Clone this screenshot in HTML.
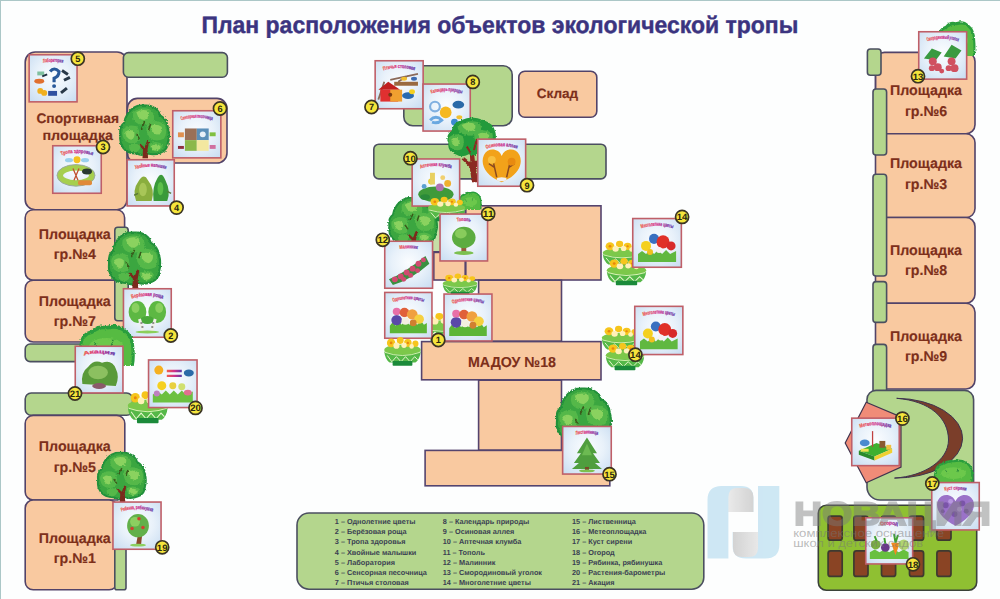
<!DOCTYPE html>
<html><head><meta charset="utf-8"><style>
html,body{margin:0;padding:0;background:#fdfefe;}
body{width:1000px;height:599px;overflow:hidden;font-family:"Liberation Sans",sans-serif;}
svg{display:block;}
</style></head><body>
<svg width="1000" height="599" viewBox="0 0 1000 599" text-rendering="geometricPrecision">

<defs>
<filter id="leafy" x="-10%" y="-10%" width="120%" height="120%">
  <feTurbulence type="fractalNoise" baseFrequency="0.6" numOctaves="1" seed="3" result="n"/>
  <feDisplacementMap in="SourceGraphic" in2="n" scale="3" xChannelSelector="R" yChannelSelector="G"/>
</filter>
<radialGradient id="cg" cx="50%" cy="45%" r="70%">
  <stop offset="0" stop-color="#fbfdff"/><stop offset="0.5" stop-color="#e8f1fa"/><stop offset="1" stop-color="#cadef2"/>
</radialGradient>
<path id="tp" d="M8 11 Q25 5 42 11"/>
<linearGradient id="tg" x1="0" x2="1" y1="0" y2="0">
  <stop offset="0" stop-color="#f0604a"/><stop offset="0.5" stop-color="#d0308a"/><stop offset="1" stop-color="#5a3aa8"/>
</linearGradient>
<symbol id="tree" viewBox="0 0 100 110" preserveAspectRatio="none">
  <path d="M30 6 Q46 -3 64 4 Q78 10 80 22 Q94 30 96 48 Q100 64 96 76 Q96 92 82 98 Q70 104 56 100 Q46 106 34 100 Q16 100 8 88 Q0 76 3 62 Q0 46 10 38 Q14 16 30 6 Z" fill="#3aa640" stroke="#22903a" stroke-width="4"/>
  <path d="M46 110 L47 92 L38 82 L42 80 L50 88 L55 74 L59 76 L56 92 L57 110 Z" fill="#7a2a1c"/>
  <g fill="#55b84a">
    <path d="M28 16 Q42 4 60 10 Q72 18 68 34 Q54 44 38 40 Q24 34 28 16 Z"/>
    <path d="M8 52 Q18 38 36 46 Q44 60 38 76 Q24 84 12 74 Q4 62 8 52 Z"/>
    <path d="M56 38 Q74 28 90 42 Q96 58 88 70 Q72 78 60 68 Q50 54 56 38 Z"/>
    <path d="M20 84 Q32 76 42 84 Q42 96 30 98 Q18 94 20 84 Z"/>
    <path d="M60 80 Q74 72 86 82 Q86 94 72 96 Q60 94 60 80 Z"/>
  </g>
  <g fill="#8ad25e">
    <path d="M34 16 Q46 8 58 14 Q62 26 50 32 Q38 32 34 16 Z"/>
    <path d="M12 56 Q22 48 30 56 Q32 68 24 72 Q14 70 12 56 Z"/>
    <path d="M62 44 Q74 38 84 46 Q86 58 76 62 Q64 60 62 44 Z"/>
    <path d="M64 84 Q74 78 82 86 Q80 94 70 94 Q64 92 64 84 Z"/>
  </g>
  <path d="M50 36 L44 50 M62 40 L58 52 M34 60 L40 70" stroke="#3a5a1a" stroke-width="3" fill="none"/>
</symbol>
<symbol id="bush" viewBox="0 0 100 60" preserveAspectRatio="none">
  <path d="M2 60 Q0 42 4 30 Q6 12 24 9 Q34 0 50 3 Q68 -2 82 7 Q98 15 98 34 Q100 48 97 60 Z" fill="#2a9e3c"/>
  <path d="M6 60 Q4 42 8 32 Q11 16 27 14 Q38 6 52 8 Q70 4 80 12 Q93 20 93 36 Q95 48 92 60 Z" fill="#56bb42"/>
  <ellipse cx="50" cy="34" rx="30" ry="14" fill="#6cc84c"/>
  <path d="M30 26 L36 34 M62 22 L58 32" stroke="#2a8a3a" stroke-width="2"/>
</symbol>
<symbol id="pot" viewBox="0 0 100 80" preserveAspectRatio="none">
  <ellipse cx="50" cy="38" rx="48" ry="14" fill="#7cc84a"/>
  <g fill="#f6c51c">
    <circle cx="20" cy="20" r="11"/><circle cx="44" cy="14" r="9"/><circle cx="64" cy="20" r="10"/><circle cx="84" cy="22" r="8"/>
  </g>
  <g fill="#fff1b8"><circle cx="34" cy="27" r="8"/><circle cx="54" cy="26" r="7"/><circle cx="74" cy="29" r="6"/></g>
  <g fill="#e8860e"><circle cx="20" cy="20" r="3.5"/><circle cx="64" cy="20" r="3"/></g>
  <path d="M2 42 Q50 58 98 42 Q96 62 84 70 L16 70 Q4 62 2 42 Z" fill="#55b848"/>
  <path d="M4 44 Q50 60 96 44" stroke="#d8f2b0" stroke-width="2.5" fill="none"/>
  <path d="M10 52 L22 68 L34 55 L46 68 L58 55 L70 68 L82 55 L90 63" stroke="#e8f8d0" stroke-width="2.5" fill="none"/>
  <rect x="24" y="66" width="52" height="12" rx="2" fill="#1b8a3a"/>
</symbol>
<symbol id="tree2" viewBox="0 0 100 130" preserveAspectRatio="none">
  <path d="M50 130 L46 100 L30 84 L35 80 L47 90 L46 70 L54 68 L56 88 L70 76 L74 80 L58 100 L62 130 Z" fill="#8a2a20"/>
  <path d="M30 6 Q50 -4 72 6 Q92 12 96 30 Q100 46 90 58 Q84 72 66 70 Q56 80 44 74 Q30 82 18 74 Q2 68 4 52 Q-2 36 10 28 Q14 10 30 6 Z" fill="#249a3a"/>
  <g fill="#4eb449">
    <path d="M22 18 Q40 4 62 10 Q72 18 68 32 Q54 40 38 36 Q22 32 22 18 Z"/>
    <path d="M6 40 Q18 30 32 38 Q38 52 30 64 Q18 70 8 60 Q2 50 6 40 Z"/>
    <path d="M56 30 Q74 22 90 32 Q94 46 84 56 Q70 60 60 52 Q52 42 56 30 Z"/>
  </g>
  <g fill="#86cf5c">
    <path d="M30 16 Q44 8 56 14 Q60 24 50 28 Q36 28 30 16 Z"/>
    <path d="M10 44 Q20 38 26 46 Q26 56 18 58 Q10 56 10 44 Z"/>
    <path d="M62 34 Q74 28 84 36 Q84 46 74 50 Q64 46 62 34 Z"/>
  </g>
  <path d="M48 72 L40 58 M54 66 L60 44" stroke="#8a2a20" stroke-width="4" fill="none"/>
</symbol>
</defs>

<rect x="0" y="0" width="1000" height="599" fill="#fdfefe"/>
<rect x="0" y="0" width="1000" height="1" fill="#abc7c7"/>
<rect x="0" y="0" width="1" height="599" fill="#abc7c7"/>
<text x="201.4" y="33.4" font-family="Liberation Sans" font-size="23.6" font-weight="bold" fill="#3b3480" text-anchor="start" textLength="597" lengthAdjust="spacingAndGlyphs" stroke="#3b3480" stroke-width="0.4" >План расположения объектов экологической тропы</text>
<rect x="25.2" y="52.0" width="101.8" height="157.7" rx="10" fill="#f9c9a0" stroke="#524369" stroke-width="1.6" />
<rect x="127.4" y="98.4" width="99.6" height="64.6" rx="10" fill="#f9c9a0" stroke="#524369" stroke-width="1.6" />
<rect x="123.4" y="52.6" width="104.0" height="24.6" rx="5" fill="#b4d68d" stroke="#4b4f60" stroke-width="1.6" />
<rect x="25.2" y="209.7" width="99.4" height="70.5" rx="8" fill="#f9c9a0" stroke="#524369" stroke-width="1.6" />
<rect x="25.2" y="280.2" width="99.4" height="61.8" rx="8" fill="#f9c9a0" stroke="#524369" stroke-width="1.6" />
<rect x="114.8" y="227.2" width="13.4" height="93.6" rx="3" fill="#b4d68d" stroke="#4b4f60" stroke-width="1.6" />
<rect x="25.2" y="344.0" width="98.0" height="17.6" rx="5" fill="#b4d68d" stroke="#4b4f60" stroke-width="1.6" />
<rect x="25.2" y="393.0" width="107.4" height="22.2" rx="6" fill="#b4d68d" stroke="#4b4f60" stroke-width="1.6" />
<rect x="25.2" y="415.4" width="99.6" height="84.6" rx="8" fill="#f9c9a0" stroke="#524369" stroke-width="1.6" />
<rect x="25.2" y="500.0" width="92.0" height="89.8" rx="8" fill="#f9c9a0" stroke="#524369" stroke-width="1.6" />
<rect x="114.8" y="505.8" width="11.2" height="84.0" rx="2" fill="#b4d68d" stroke="#4b4f60" stroke-width="1.6" />
<text x="77.7" y="122.6" font-family="Liberation Sans" font-size="13.8" font-weight="bold" fill="#7d2f1a" text-anchor="middle" textLength="82.6" lengthAdjust="spacingAndGlyphs" stroke="#7d2f1a" stroke-width="0.15" >Спортивная</text>
<text x="77.7" y="140.2" font-family="Liberation Sans" font-size="13.8" font-weight="bold" fill="#7d2f1a" text-anchor="middle" textLength="70.6" lengthAdjust="spacingAndGlyphs" stroke="#7d2f1a" stroke-width="0.15" >площадка</text>
<text x="74.8" y="238.9" font-family="Liberation Sans" font-size="14.2" font-weight="bold" fill="#7d2f1a" text-anchor="middle" textLength="72" lengthAdjust="spacingAndGlyphs" stroke="#7d2f1a" stroke-width="0.15" >Площадка</text>
<text x="74.8" y="259.2" font-family="Liberation Sans" font-size="14.2" font-weight="bold" fill="#7d2f1a" text-anchor="middle"  stroke="#7d2f1a" stroke-width="0.15" >гр.№4</text>
<text x="74.8" y="305.6" font-family="Liberation Sans" font-size="14.2" font-weight="bold" fill="#7d2f1a" text-anchor="middle" textLength="72" lengthAdjust="spacingAndGlyphs" stroke="#7d2f1a" stroke-width="0.15" >Площадка</text>
<text x="74.8" y="325.90000000000003" font-family="Liberation Sans" font-size="14.2" font-weight="bold" fill="#7d2f1a" text-anchor="middle"  stroke="#7d2f1a" stroke-width="0.15" >гр.№7</text>
<text x="74.8" y="451.2" font-family="Liberation Sans" font-size="14.2" font-weight="bold" fill="#7d2f1a" text-anchor="middle" textLength="72" lengthAdjust="spacingAndGlyphs" stroke="#7d2f1a" stroke-width="0.15" >Площадка</text>
<text x="74.8" y="471.5" font-family="Liberation Sans" font-size="14.2" font-weight="bold" fill="#7d2f1a" text-anchor="middle"  stroke="#7d2f1a" stroke-width="0.15" >гр.№5</text>
<text x="74.8" y="542.8" font-family="Liberation Sans" font-size="14.2" font-weight="bold" fill="#7d2f1a" text-anchor="middle" textLength="72" lengthAdjust="spacingAndGlyphs" stroke="#7d2f1a" stroke-width="0.15" >Площадка</text>
<text x="74.8" y="563.0999999999999" font-family="Liberation Sans" font-size="14.2" font-weight="bold" fill="#7d2f1a" text-anchor="middle"  stroke="#7d2f1a" stroke-width="0.15" >гр.№1</text>
<rect x="875.5" y="52.4" width="99.5" height="81.4" rx="9" fill="#f9c9a0" stroke="#524369" stroke-width="1.6" />
<rect x="875.5" y="133.7" width="99.5" height="83.9" rx="9" fill="#f9c9a0" stroke="#524369" stroke-width="1.6" />
<rect x="875.5" y="217.5" width="99.5" height="85.8" rx="9" fill="#f9c9a0" stroke="#524369" stroke-width="1.6" />
<rect x="875.5" y="303.2" width="99.5" height="85.8" rx="9" fill="#f9c9a0" stroke="#524369" stroke-width="1.6" />
<line x1="875.5" y1="70" x2="875.5" y2="95" stroke="#524369" stroke-width="1.4"/>
<rect x="867.4" y="49.0" width="13.6" height="26.2" rx="3" fill="#b4d68d" stroke="#4b4f60" stroke-width="1.6" />
<rect x="873.0" y="89.0" width="13.6" height="66.0" rx="3" fill="#b4d68d" stroke="#4b4f60" stroke-width="1.6" />
<rect x="873.0" y="174.2" width="13.6" height="101.8" rx="3" fill="#b4d68d" stroke="#4b4f60" stroke-width="1.6" />
<rect x="873.0" y="281.6" width="13.6" height="40.8" rx="3" fill="#b4d68d" stroke="#4b4f60" stroke-width="1.6" />
<rect x="873.0" y="344.4" width="13.6" height="48.2" rx="3" fill="#b4d68d" stroke="#4b4f60" stroke-width="1.6" />
<text x="926" y="95.2" font-family="Liberation Sans" font-size="14.2" font-weight="bold" fill="#7d2f1a" text-anchor="middle" textLength="72" lengthAdjust="spacingAndGlyphs" stroke="#7d2f1a" stroke-width="0.15" >Площадка</text>
<text x="926" y="115.6" font-family="Liberation Sans" font-size="14.2" font-weight="bold" fill="#7d2f1a" text-anchor="middle"  stroke="#7d2f1a" stroke-width="0.15" >гр.№6</text>
<text x="926" y="168.4" font-family="Liberation Sans" font-size="14.2" font-weight="bold" fill="#7d2f1a" text-anchor="middle" textLength="72" lengthAdjust="spacingAndGlyphs" stroke="#7d2f1a" stroke-width="0.15" >Площадка</text>
<text x="926" y="189.20000000000002" font-family="Liberation Sans" font-size="14.2" font-weight="bold" fill="#7d2f1a" text-anchor="middle"  stroke="#7d2f1a" stroke-width="0.15" >гр.№3</text>
<text x="926" y="254.8" font-family="Liberation Sans" font-size="14.2" font-weight="bold" fill="#7d2f1a" text-anchor="middle" textLength="72" lengthAdjust="spacingAndGlyphs" stroke="#7d2f1a" stroke-width="0.15" >Площадка</text>
<text x="926" y="275.1" font-family="Liberation Sans" font-size="14.2" font-weight="bold" fill="#7d2f1a" text-anchor="middle"  stroke="#7d2f1a" stroke-width="0.15" >гр.№8</text>
<text x="926" y="340.8" font-family="Liberation Sans" font-size="14.2" font-weight="bold" fill="#7d2f1a" text-anchor="middle" textLength="72" lengthAdjust="spacingAndGlyphs" stroke="#7d2f1a" stroke-width="0.15" >Площадка</text>
<text x="926" y="360.6" font-family="Liberation Sans" font-size="14.2" font-weight="bold" fill="#7d2f1a" text-anchor="middle"  stroke="#7d2f1a" stroke-width="0.15" >гр.№9</text>
<path d="M876 390.4 H964.6 A9 9 0 0 1 973.6 399.4 V491 A9 9 0 0 1 964.6 500 H880 A13 13 0 0 1 867 487 V399.4 A9 9 0 0 1 876 390.4 Z" fill="#b4d68d" stroke="#4b4f60" stroke-width="1.6"/>
<rect x="818.3" y="505.3" width="158.4" height="84.9" rx="8" fill="#8fc032" stroke="#3a4238" stroke-width="1.6" />
<rect x="828.1" y="516.1" width="14.1" height="24.1" rx="2.5" fill="#8a4424" stroke="#3e3a30" stroke-width="1.7" />
<rect x="828.1" y="550.9" width="14.1" height="25.5" rx="2.5" fill="#8a4424" stroke="#3e3a30" stroke-width="1.7" />
<rect x="853.9" y="516.1" width="14.1" height="24.1" rx="2.5" fill="#8a4424" stroke="#3e3a30" stroke-width="1.7" />
<rect x="853.9" y="550.9" width="14.1" height="25.5" rx="2.5" fill="#8a4424" stroke="#3e3a30" stroke-width="1.7" />
<rect x="881.5" y="516.1" width="14.1" height="24.1" rx="2.5" fill="#8a4424" stroke="#3e3a30" stroke-width="1.7" />
<rect x="881.5" y="550.9" width="14.1" height="25.5" rx="2.5" fill="#8a4424" stroke="#3e3a30" stroke-width="1.7" />
<rect x="909.5" y="516.1" width="14.1" height="24.1" rx="2.5" fill="#8a4424" stroke="#3e3a30" stroke-width="1.7" />
<rect x="909.5" y="550.9" width="14.1" height="25.5" rx="2.5" fill="#8a4424" stroke="#3e3a30" stroke-width="1.7" />
<rect x="936.9" y="516.1" width="14.1" height="24.1" rx="2.5" fill="#8a4424" stroke="#3e3a30" stroke-width="1.7" />
<rect x="936.9" y="550.9" width="14.1" height="25.5" rx="2.5" fill="#8a4424" stroke="#3e3a30" stroke-width="1.7" />
<rect x="403.8" y="65.8" width="108.4" height="59.9" rx="9" fill="#b4d68d" stroke="#4b4f60" stroke-width="1.6" />
<rect x="518.8" y="71.2" width="78.0" height="46.0" rx="6" fill="#f9c9a0" stroke="#524369" stroke-width="1.6" />
<text x="557.5" y="98.4" font-family="Liberation Sans" font-size="13.5" font-weight="bold" fill="#7d2f1a" text-anchor="middle" textLength="41.4" lengthAdjust="spacingAndGlyphs" stroke="#7d2f1a" stroke-width="0.15" >Склад</text>
<rect x="373.8" y="144.2" width="232.2" height="34.7" rx="5" fill="#b4d68d" stroke="#4b4f60" stroke-width="1.6" />
<rect x="405.8" y="205.8" width="59.4" height="46.0" rx="0" fill="#c6dfa6" stroke="#54446e" stroke-width="1.6" />
<rect x="433.8" y="252.4" width="31.4" height="27.6" rx="0" fill="#f9c9a0" stroke="#54446e" stroke-width="1.6" />
<rect x="465.8" y="205.8" width="135.2" height="74.2" rx="0" fill="#f9c9a0" stroke="#54446e" stroke-width="1.6" />
<rect x="478.6" y="280.2" width="82.9" height="61.0" rx="0" fill="#f9c9a0" stroke="#54446e" stroke-width="1.6" />
<rect x="478.6" y="380.2" width="82.9" height="70.0" rx="0" fill="#f9c9a0" stroke="#54446e" stroke-width="1.6" />
<rect x="421.6" y="341.6" width="179.4" height="38.2" rx="0" fill="#f9c9a0" stroke="#54446e" stroke-width="1.6" />
<rect x="425.1" y="450.4" width="184.7" height="35.4" rx="0" fill="#f9c9a0" stroke="#54446e" stroke-width="1.6" />
<text x="512" y="366.6" font-family="Liberation Sans" font-size="14.4" font-weight="bold" fill="#7d2f1a" text-anchor="middle" textLength="88" lengthAdjust="spacingAndGlyphs" stroke="#7d2f1a" stroke-width="0.1" >МАДОУ №18</text>
<rect x="297.0" y="513.0" width="406.8" height="76.2" rx="12" fill="#b4d68d" stroke="#4b4f60" stroke-width="1.6" />
<text x="334.8" y="524" font-family="Liberation Sans" font-size="7.3" font-weight="bold" fill="#3a3f52" text-anchor="start"   >1 – Однолетние цветы</text>
<text x="334.8" y="534.1" font-family="Liberation Sans" font-size="7.3" font-weight="bold" fill="#3a3f52" text-anchor="start"   >2 – Берёзовая роща</text>
<text x="334.8" y="544.2" font-family="Liberation Sans" font-size="7.3" font-weight="bold" fill="#3a3f52" text-anchor="start"   >3 – Тропа здоровья</text>
<text x="334.8" y="554.6" font-family="Liberation Sans" font-size="7.3" font-weight="bold" fill="#3a3f52" text-anchor="start"   >4 – Хвойные малышки</text>
<text x="334.8" y="564.8" font-family="Liberation Sans" font-size="7.3" font-weight="bold" fill="#3a3f52" text-anchor="start"   >5 – Лаборатория</text>
<text x="334.8" y="575.1" font-family="Liberation Sans" font-size="7.3" font-weight="bold" fill="#3a3f52" text-anchor="start"   >6 – Сенсорная песочница</text>
<text x="334.8" y="585.3" font-family="Liberation Sans" font-size="7.3" font-weight="bold" fill="#3a3f52" text-anchor="start"   >7 – Птичья столовая</text>
<text x="442.8" y="524" font-family="Liberation Sans" font-size="7.3" font-weight="bold" fill="#3a3f52" text-anchor="start"   >8 – Календарь природы</text>
<text x="442.8" y="534.1" font-family="Liberation Sans" font-size="7.3" font-weight="bold" fill="#3a3f52" text-anchor="start"   >9 – Осиновая аллея</text>
<text x="442.8" y="544.2" font-family="Liberation Sans" font-size="7.3" font-weight="bold" fill="#3a3f52" text-anchor="start"   >10 – Аптечная клумба</text>
<text x="442.8" y="554.6" font-family="Liberation Sans" font-size="7.3" font-weight="bold" fill="#3a3f52" text-anchor="start"   >11 – Тополь</text>
<text x="442.8" y="564.8" font-family="Liberation Sans" font-size="7.3" font-weight="bold" fill="#3a3f52" text-anchor="start"   >12 – Малинник</text>
<text x="442.8" y="575.1" font-family="Liberation Sans" font-size="7.3" font-weight="bold" fill="#3a3f52" text-anchor="start"   >13 – Смородиновый уголок</text>
<text x="442.8" y="585.3" font-family="Liberation Sans" font-size="7.3" font-weight="bold" fill="#3a3f52" text-anchor="start"   >14 – Многолетние цветы</text>
<text x="572" y="524" font-family="Liberation Sans" font-size="7.3" font-weight="bold" fill="#3a3f52" text-anchor="start"   >15 – Лиственница</text>
<text x="572" y="534.1" font-family="Liberation Sans" font-size="7.3" font-weight="bold" fill="#3a3f52" text-anchor="start"   >16 – Метеоплощадка</text>
<text x="572" y="544.2" font-family="Liberation Sans" font-size="7.3" font-weight="bold" fill="#3a3f52" text-anchor="start"   >17 – Куст сирени</text>
<text x="572" y="554.6" font-family="Liberation Sans" font-size="7.3" font-weight="bold" fill="#3a3f52" text-anchor="start"   >18 – Огород</text>
<text x="572" y="564.8" font-family="Liberation Sans" font-size="7.3" font-weight="bold" fill="#3a3f52" text-anchor="start"   >19 – Рябинка, рябинушка</text>
<text x="572" y="575.1" font-family="Liberation Sans" font-size="7.3" font-weight="bold" fill="#3a3f52" text-anchor="start"   >20 – Растения-барометры</text>
<text x="572" y="585.3" font-family="Liberation Sans" font-size="7.3" font-weight="bold" fill="#3a3f52" text-anchor="start"   >21 – Акация</text>
<path d="M866.2 402.2 L901 417 L901 467 L866.2 482.8 L845.2 443 Z" fill="#f08c78" stroke="#40344e" stroke-width="1.2"/>
<path d="M896.7 398.3 A67 39.9 0 0 1 894.5 478.1 C 925 476 948.5 460 948.5 440 C 948.5 418 930 401 896.7 398.3 Z" fill="#7b3e2a" stroke="#3e3550" stroke-width="1"/>
<use href="#tree" x="119" y="104.4" width="51" height="54.0" filter="url(#leafy)"/>
<use href="#tree" x="107.6" y="231.4" width="53.80000000000001" height="56.599999999999994" filter="url(#leafy)"/>
<use href="#tree" x="96.7" y="451.7" width="50.2" height="50.19999999999999" filter="url(#leafy)"/>
<use href="#tree" x="388" y="197" width="50" height="51" filter="url(#leafy)"/>
<use href="#tree" x="555.5" y="387.5" width="56.5" height="57.5" filter="url(#leafy)"/>
<use href="#bush" x="936" y="20.5" width="40" height="35.5" filter="url(#leafy)"/>
<use href="#bush" x="933" y="459" width="41" height="25" filter="url(#leafy)"/>
<use href="#bush" x="458" y="191" width="24" height="19" filter="url(#leafy)"/>
<use href="#pot" x="127" y="389" width="41.5" height="35"/>
<use href="#pot" x="442" y="272" width="36" height="24"/>
<use href="#pot" x="420" y="311" width="44" height="31"/>
<use href="#pot" x="602" y="239" width="40" height="29"/>
<use href="#pot" x="606" y="256" width="41" height="30"/>
<use href="#pot" x="601" y="324" width="40" height="29"/>
<use href="#pot" x="605" y="341" width="40" height="30"/>
<g transform="translate(28.4,54.0)"><rect x="0.75" y="0.75" width="47.9" height="47.1" fill="url(#cg)" stroke="#bf5f68" stroke-width="1.6"/><g transform="scale(0.988,0.972)"><text font-family="Liberation Sans" font-weight="bold" font-size="5.4" fill="url(#tg)" stroke="url(#tg)" stroke-width="0.25"><textPath href="#tp" startOffset="50%" text-anchor="middle" textLength="20" lengthAdjust="spacingAndGlyphs">Лаборатория</textPath></text><path d="M22 18 q4 -5 9 0 q0 5 -5 7 l0 4" stroke="#2a5a9a" stroke-width="3.2" fill="none"/><circle cx="26" cy="33" r="2" fill="#2a5a9a"/><ellipse cx="11" cy="28" rx="5" ry="2.5" fill="#e07030"/><circle cx="12" cy="38" r="3" fill="#f0b020"/><circle cx="16" cy="40" r="3" fill="#f0b020"/><path d="M34 17 l6 4 M36 27 l6 -3 M33 40 l6 -5" stroke="#283848" stroke-width="3"/><rect x="9" y="18" width="7" height="4" fill="#80c0a0"/><rect x="20" y="38" width="9" height="5" fill="#3050a0"/><path d="M14 23 l5 -2" stroke="#203040" stroke-width="2"/></g></g>
<g transform="translate(172.0,110.0)"><rect x="0.75" y="0.75" width="48.1" height="47.1" fill="url(#cg)" stroke="#bf5f68" stroke-width="1.6"/><g transform="scale(0.992,0.972)"><text font-family="Liberation Sans" font-weight="bold" font-size="5.4" fill="url(#tg)" stroke="url(#tg)" stroke-width="0.25"><textPath href="#tp" startOffset="50%" text-anchor="middle" textLength="32" lengthAdjust="spacingAndGlyphs">Сенсорная песочница</textPath></text><rect x="13" y="19" width="12" height="12" fill="#9a7058"/><rect x="25" y="19" width="12" height="12" fill="#5b8fb8"/><rect x="13" y="31" width="12" height="11" fill="#8ab84a"/><rect x="25" y="31" width="12" height="11" fill="#f3e8a0"/><rect x="6" y="23" width="6" height="5" fill="#e09050"/><rect x="38" y="23" width="6" height="4" fill="#80c040"/><rect x="6" y="37" width="6" height="3" fill="#903040"/><rect x="38" y="36" width="6" height="4" fill="#d070a0"/><circle cx="31" cy="25" r="3" fill="#e8f0f8"/></g></g>
<g transform="translate(52.0,145.0)"><rect x="0.75" y="0.75" width="48.5" height="47.5" fill="url(#cg)" stroke="#bf5f68" stroke-width="1.6"/><g transform="scale(1.000,0.980)"><text font-family="Liberation Sans" font-weight="bold" font-size="5.4" fill="url(#tg)" stroke="url(#tg)" stroke-width="0.25"><textPath href="#tp" startOffset="50%" text-anchor="middle" textLength="32" lengthAdjust="spacingAndGlyphs">Тропа здоровья</textPath></text><circle cx="25" cy="15" r="3.5" fill="#f5c020"/><ellipse cx="17" cy="15.5" rx="4" ry="2.2" fill="#9ad0ee"/><ellipse cx="33" cy="15.5" rx="4" ry="2.2" fill="#9ad0ee"/><ellipse cx="24" cy="31" rx="16" ry="8" fill="none" stroke="#a6cf4e" stroke-width="6"/><ellipse cx="24" cy="31" rx="19" ry="11" fill="none" stroke="#9aa8a0" stroke-width="1"/><ellipse cx="35" cy="27" rx="5" ry="3" fill="#2a3a30"/><path d="M21 24 L26 36 M27 24 L22 36" stroke="#c05030" stroke-width="1.3"/><rect x="26" y="36" width="14" height="5" rx="2" fill="#e08a3a"/></g></g>
<g transform="translate(126.4,159.0)"><rect x="0.75" y="0.75" width="47.1" height="46.2" fill="url(#cg)" stroke="#bf5f68" stroke-width="1.6"/><g transform="scale(0.972,0.954)"><text font-family="Liberation Sans" font-weight="bold" font-size="5.4" fill="url(#tg)" stroke="url(#tg)" stroke-width="0.25"><textPath href="#tp" startOffset="50%" text-anchor="middle" textLength="32" lengthAdjust="spacingAndGlyphs">Хвойные малышки</textPath></text><path d="M10 44 Q6 32 12 24 Q18 14 22 22 Q30 32 26 44 Z" fill="#8aae3e"/><path d="M28 44 Q26 30 32 20 Q36 12 40 22 Q46 34 42 44 Z" fill="#3a9a3a"/><ellipse cx="17" cy="32" rx="4" ry="7" fill="#a8c658"/><ellipse cx="35" cy="31" rx="3" ry="7" fill="#5cbf4a"/><path d="M8 38 L12 36 M42 34 L46 36" stroke="#5a7a3a" stroke-width="1.5"/></g></g>
<g transform="translate(122.7,288.0)"><rect x="0.75" y="0.75" width="47.8" height="48.5" fill="url(#cg)" stroke="#bf5f68" stroke-width="1.6"/><g transform="scale(0.986,1.000)"><text font-family="Liberation Sans" font-weight="bold" font-size="5.4" fill="url(#tg)" stroke="url(#tg)" stroke-width="0.25"><textPath href="#tp" startOffset="50%" text-anchor="middle" textLength="32" lengthAdjust="spacingAndGlyphs">Берёзовая роща</textPath></text><ellipse cx="15" cy="24" rx="9" ry="11" fill="#5db843"/><ellipse cx="35" cy="24" rx="9" ry="11" fill="#5db843"/><ellipse cx="25" cy="32" rx="7" ry="4" fill="#4aa83a"/><ellipse cx="13" cy="20" rx="4" ry="5" fill="#8ad060"/><ellipse cx="37" cy="20" rx="4" ry="5" fill="#8ad060"/><path d="M17 31 L21 44 M33 31 L29 44" stroke="#f0f0e8" stroke-width="3"/><path d="M18 35 L20 35 M19 39 L21 39 M32 35 L30 35 M31 39 L29 39" stroke="#303030" stroke-width="1"/><ellipse cx="25" cy="44" rx="12" ry="1.5" fill="#8ccf5a"/></g></g>
<g transform="translate(147.8,359.2)"><rect x="0.75" y="0.75" width="48.5" height="47.6" fill="url(#cg)" stroke="#bf5f68" stroke-width="1.6"/><g transform="scale(1.000,0.982)"><circle cx="11" cy="11" r="4.5" fill="#f5b020"/><ellipse cx="41" cy="14" rx="5" ry="3.5" fill="#2a6aa8"/><path d="M19 12 L34 12 M19 17 L34 17" stroke="url(#tg)" stroke-width="2.5"/><path d="M5 44 L5 36 L10 33 L14 36 L18 32 L22 36 L26 32 L30 36 L34 32 L38 36 L45 33 L45 44 Z" fill="#6cc040"/><circle cx="14" cy="27" r="4.5" fill="#f5d020"/><circle cx="25" cy="27" r="3.5" fill="#e8d040"/><circle cx="34" cy="28" r="3.5" fill="#d0e070"/><ellipse cx="40" cy="34" rx="4" ry="3" fill="#e07090"/><ellipse cx="9" cy="35" rx="3" ry="3" fill="#c080c0"/></g></g>
<g transform="translate(112.2,501.3)"><rect x="0.75" y="0.75" width="48.1" height="47.2" fill="url(#cg)" stroke="#bf5f68" stroke-width="1.6"/><g transform="scale(0.992,0.974)"><text font-family="Liberation Sans" font-weight="bold" font-size="5.4" fill="url(#tg)" stroke="url(#tg)" stroke-width="0.25"><textPath href="#tp" startOffset="50%" text-anchor="middle" textLength="32" lengthAdjust="spacingAndGlyphs">Рябинка, рябинушка</textPath></text><path d="M24 45 L27 28 L31 28 L29 45 Z" fill="#8a4a2a"/><ellipse cx="26" cy="25" rx="11" ry="12" fill="#62b04a"/><ellipse cx="23" cy="21" rx="5" ry="5" fill="#8ccf60"/><circle cx="20" cy="28" r="1.8" fill="#d04030"/><circle cx="31" cy="27" r="1.8" fill="#d04030"/><circle cx="27" cy="18" r="1.8" fill="#d04030"/><ellipse cx="26" cy="45" rx="8" ry="1.5" fill="#8cd060"/></g></g>
<g transform="translate(374.4,60.0)"><rect x="0.75" y="0.75" width="48.0" height="48.0" fill="url(#cg)" stroke="#bf5f68" stroke-width="1.6"/><g transform="scale(0.990,0.990)"><text font-family="Liberation Sans" font-weight="bold" font-size="5.4" fill="url(#tg)" stroke="url(#tg)" stroke-width="0.25"><textPath href="#tp" startOffset="50%" text-anchor="middle" textLength="32" lengthAdjust="spacingAndGlyphs">Птичья столовая</textPath></text><path d="M4 40 L10 22 M16 20 L44 14 M24 22 L34 16" stroke="#8a6a5a" stroke-width="1.8" fill="none"/><rect x="20" y="22" width="24" height="4" fill="#9a6a40"/><path d="M4 30 L14 22 L26 30 Z" fill="#c02020"/><rect x="6" y="30" width="18" height="12" fill="#e03030"/><rect x="16" y="30" width="12" height="12" fill="#f0a030"/><circle cx="16" cy="35" r="2" fill="#7a3a10"/><ellipse cx="34" cy="36" rx="6" ry="3.5" fill="#2a6ab0"/><ellipse cx="38" cy="32" rx="3" ry="2.5" fill="#f5d020"/><ellipse cx="30" cy="19" rx="3" ry="2" fill="#f0c030"/><ellipse cx="40" cy="19" rx="3" ry="2" fill="#3a6ab0"/></g></g>
<g transform="translate(422.3,83.3)"><rect x="0.75" y="0.75" width="47.2" height="47.0" fill="url(#cg)" stroke="#bf5f68" stroke-width="1.6"/><g transform="scale(0.974,0.970)"><text font-family="Liberation Sans" font-weight="bold" font-size="5.4" fill="url(#tg)" stroke="url(#tg)" stroke-width="0.25"><textPath href="#tp" startOffset="50%" text-anchor="middle" textLength="32" lengthAdjust="spacingAndGlyphs">Календарь природы</textPath></text><circle cx="13" cy="24" r="5" fill="none" stroke="#80b0e0" stroke-width="2.2"/><circle cx="24" cy="30" r="6" fill="#f5b820"/><ellipse cx="37" cy="22" rx="6" ry="4" fill="#2a6aa8"/><path d="M8 38 q6 -6 12 0 q-4 4 -10 2" stroke="#6aa8e0" stroke-width="3" fill="none"/><circle cx="33" cy="40" r="3.5" fill="#3a8ad0"/><ellipse cx="38" cy="35" rx="3" ry="2" fill="#f0c030"/></g></g>
<g transform="translate(384.0,240.5)"><rect x="0.75" y="0.75" width="47.8" height="47.0" fill="url(#cg)" stroke="#bf5f68" stroke-width="1.6"/><g transform="scale(0.986,0.970)"><text font-family="Liberation Sans" font-weight="bold" font-size="5.4" fill="url(#tg)" stroke="url(#tg)" stroke-width="0.25"><textPath href="#tp" startOffset="50%" text-anchor="middle" textLength="18" lengthAdjust="spacingAndGlyphs">Малинник</textPath></text><path d="M5 40 Q20 34 42 16 L46 24 Q28 40 9 46 Z" fill="#3a9040"/><g fill="#d04a70"><circle cx="11" cy="40" r="3"/><circle cx="17" cy="37" r="3"/><circle cx="23" cy="33" r="3"/><circle cx="29" cy="29" r="3"/><circle cx="35" cy="24" r="3"/><circle cx="40" cy="20" r="2.5"/><circle cx="20" cy="40" r="2.5"/><circle cx="27" cy="36" r="2.5"/><circle cx="34" cy="31" r="2.5"/></g></g></g>
<g transform="translate(384.0,291.7)"><rect x="0.75" y="0.75" width="47.2" height="45.8" fill="url(#cg)" stroke="#bf5f68" stroke-width="1.6"/><g transform="scale(0.974,0.946)"><text font-family="Liberation Sans" font-weight="bold" font-size="5.4" fill="url(#tg)" stroke="url(#tg)" stroke-width="0.25"><textPath href="#tp" startOffset="50%" text-anchor="middle" textLength="32" lengthAdjust="spacingAndGlyphs">Однолетние цветы</textPath></text><path d="M6 44 L6 36 L9 32 L12 36 L15 31 L18 35 L22 30 L26 35 L30 31 L34 35 L38 31 L41 35 L44 33 L44 44 Z" fill="#5cb536"/><circle cx="13" cy="30" r="5.5" fill="#5a48a8"/><circle cx="13" cy="21" r="4" fill="#e870a8"/><circle cx="21" cy="22" r="5" fill="#e0603a"/><circle cx="29" cy="24" r="5.5" fill="#f0a040"/><circle cx="36" cy="29" r="5" fill="#f5d040"/><circle cx="22" cy="31" r="4" fill="#f4efe0"/><circle cx="30" cy="33" r="3.5" fill="#d08030"/></g></g>
<g transform="translate(443.3,293.3)"><rect x="0.75" y="0.75" width="47.9" height="46.9" fill="url(#cg)" stroke="#bf5f68" stroke-width="1.6"/><g transform="scale(0.988,0.968)"><text font-family="Liberation Sans" font-weight="bold" font-size="5.4" fill="url(#tg)" stroke="url(#tg)" stroke-width="0.25"><textPath href="#tp" startOffset="50%" text-anchor="middle" textLength="32" lengthAdjust="spacingAndGlyphs">Однолетние цветы</textPath></text><path d="M6 44 L6 36 L9 32 L12 36 L15 31 L18 35 L22 30 L26 35 L30 31 L34 35 L38 31 L41 35 L44 33 L44 44 Z" fill="#5cb536"/><circle cx="13" cy="30" r="5.5" fill="#5a48a8"/><circle cx="13" cy="21" r="4" fill="#e870a8"/><circle cx="21" cy="22" r="5" fill="#e0603a"/><circle cx="29" cy="24" r="5.5" fill="#f0a040"/><circle cx="36" cy="29" r="5" fill="#f5d040"/><circle cx="22" cy="31" r="4" fill="#f4efe0"/><circle cx="30" cy="33" r="3.5" fill="#d08030"/></g></g>
<g transform="translate(632.0,217.8)"><rect x="0.75" y="0.75" width="48.6" height="48.7" fill="url(#cg)" stroke="#bf5f68" stroke-width="1.6"/><g transform="scale(1.002,1.004)"><text font-family="Liberation Sans" font-weight="bold" font-size="5.4" fill="url(#tg)" stroke="url(#tg)" stroke-width="0.25"><textPath href="#tp" startOffset="50%" text-anchor="middle" textLength="32" lengthAdjust="spacingAndGlyphs">Многолетние цветы</textPath></text><path d="M6 44 L6 36 L10 33 L14 36 L18 32 L22 36 L26 32 L30 36 L34 32 L38 36 L44 33 L44 44 Z" fill="#60b840"/><circle cx="14" cy="28" r="5" fill="#f4d020"/><circle cx="22" cy="21" r="5" fill="#3a70c0"/><circle cx="31" cy="24" r="6.5" fill="#e03028"/><circle cx="39" cy="28" r="4.5" fill="#d82a2a"/><circle cx="18" cy="34" r="3" fill="#f0c020"/><circle cx="27" cy="32" r="3" fill="#f8f0f0"/></g></g>
<g transform="translate(634.0,305.6)"><rect x="0.75" y="0.75" width="48.1" height="48.2" fill="url(#cg)" stroke="#bf5f68" stroke-width="1.6"/><g transform="scale(0.992,0.994)"><text font-family="Liberation Sans" font-weight="bold" font-size="5.4" fill="url(#tg)" stroke="url(#tg)" stroke-width="0.25"><textPath href="#tp" startOffset="50%" text-anchor="middle" textLength="32" lengthAdjust="spacingAndGlyphs">Многолетние цветы</textPath></text><path d="M6 44 L6 36 L10 33 L14 36 L18 32 L22 36 L26 32 L30 36 L34 32 L38 36 L44 33 L44 44 Z" fill="#60b840"/><circle cx="14" cy="28" r="5" fill="#f4d020"/><circle cx="22" cy="21" r="5" fill="#3a70c0"/><circle cx="31" cy="24" r="6.5" fill="#e03028"/><circle cx="39" cy="28" r="4.5" fill="#d82a2a"/><circle cx="18" cy="34" r="3" fill="#f0c020"/><circle cx="27" cy="32" r="3" fill="#f8f0f0"/></g></g>
<g transform="translate(561.9,425.7)"><rect x="0.75" y="0.75" width="48.6" height="47.6" fill="url(#cg)" stroke="#bf5f68" stroke-width="1.6"/><g transform="scale(1.002,0.982)"><text font-family="Liberation Sans" font-weight="bold" font-size="5.4" fill="url(#tg)" stroke="url(#tg)" stroke-width="0.25"><textPath href="#tp" startOffset="50%" text-anchor="middle" textLength="22" lengthAdjust="spacingAndGlyphs">Лиственница</textPath></text><path d="M25 12 L35 28 L31 28 L38 38 L33 38 L40 44 L10 44 L17 38 L12 38 L19 28 L15 28 Z" fill="#4f9e3e"/><path d="M25 18 L30 30 L20 30 Z" fill="#6cba52"/><rect x="23" y="42" width="4" height="4" fill="#7a4a2a"/><ellipse cx="25" cy="46" rx="8" ry="1.5" fill="#7cc050"/></g></g>
<g transform="translate(918.0,31.0)"><rect x="0.75" y="0.75" width="47.9" height="47.4" fill="url(#cg)" stroke="#bf5f68" stroke-width="1.6"/><g transform="scale(0.988,0.978)"><text font-family="Liberation Sans" font-weight="bold" font-size="5.4" fill="url(#tg)" stroke="url(#tg)" stroke-width="0.25"><textPath href="#tp" startOffset="50%" text-anchor="middle" textLength="32" lengthAdjust="spacingAndGlyphs">Смородиновый уголок</textPath></text><path d="M6 28 L14 18 L24 22 L18 30 Z M26 26 L34 14 L44 20 L38 28 Z" fill="#3a9a40"/><g fill="#d05060"><circle cx="15" cy="31" r="4"/><circle cx="20" cy="37" r="4"/><circle cx="14" cy="38" r="3"/><circle cx="34" cy="31" r="4"/><circle cx="37" cy="38" r="4"/><circle cx="31" cy="38" r="3"/><circle cx="24" cy="41" r="2.5"/></g></g></g>
<g transform="translate(851.0,417.4)"><rect x="0.75" y="0.75" width="47.5" height="47.5" fill="url(#cg)" stroke="#bf5f68" stroke-width="1.6"/><g transform="scale(0.980,0.980)"><text font-family="Liberation Sans" font-weight="bold" font-size="5.4" fill="url(#tg)" stroke="url(#tg)" stroke-width="0.25"><textPath href="#tp" startOffset="50%" text-anchor="middle" textLength="32" lengthAdjust="spacingAndGlyphs">Метеоплощадка</textPath></text><path d="M8 34 L26 26 L42 32 L24 40 Z" fill="#3fb030"/><path d="M8 34 L24 40 L24 44 L8 38 Z" fill="#2a8a2a"/><path d="M24 40 L42 32 L42 36 L24 44 Z" fill="#f0d030"/><path d="M22 14 L22 30" stroke="#c04040" stroke-width="1.3"/><ellipse cx="14" cy="26" rx="5" ry="3.5" fill="#4a8ad0"/><rect x="29" y="24" width="6" height="7" fill="#8a5a30"/><rect x="36" y="28" width="5" height="5" fill="#f0c040"/><rect x="10" y="32" width="8" height="3" fill="#f0e050"/></g></g>
<g transform="translate(931.0,481.8)"><rect x="0.75" y="0.75" width="47.5" height="47.4" fill="url(#cg)" stroke="#bf5f68" stroke-width="1.6"/><g transform="scale(0.980,0.978)"><text font-family="Liberation Sans" font-weight="bold" font-size="5.4" fill="url(#tg)" stroke="url(#tg)" stroke-width="0.25"><textPath href="#tp" startOffset="50%" text-anchor="middle" textLength="22" lengthAdjust="spacingAndGlyphs">Куст сирени</textPath></text><path d="M25 45 C9 37 4 27 7 19 C11 11 22 12 25 20 C28 12 39 11 43 19 C46 27 41 37 25 45 Z" fill="#9a72c8"/><g fill="#7a54a8"><circle cx="15" cy="24" r="3"/><circle cx="32" cy="22" r="3"/><circle cx="24" cy="33" r="3"/><circle cx="36" cy="30" r="2.5"/><circle cx="12" cy="30" r="2"/></g><g fill="#b898e0"><circle cx="20" cy="20" r="2.5"/><circle cx="29" cy="28" r="2.5"/></g></g></g>
<g transform="translate(865.0,517.0)"><rect x="0.75" y="0.75" width="46.9" height="46.2" fill="url(#cg)" stroke="#bf5f68" stroke-width="1.6"/><g transform="scale(0.968,0.954)"><text font-family="Liberation Sans" font-weight="bold" font-size="5.4" fill="url(#tg)" stroke="url(#tg)" stroke-width="0.25"><textPath href="#tp" startOffset="50%" text-anchor="middle" textLength="18" lengthAdjust="spacingAndGlyphs">Огород</textPath></text><path d="M5 44 L5 37 L10 34 L15 37 L20 34 L25 37 L30 34 L35 37 L40 34 L45 37 L45 44 Z" fill="#68c040"/><circle cx="11" cy="29" r="5" fill="#7ab040"/><circle cx="21" cy="32" r="4.5" fill="#6a3a8a"/><path d="M27 27 L36 27 L31.5 40 Z" fill="#f08a20"/><circle cx="40" cy="29" r="5.5" fill="#b0d470"/><path d="M30 18 L31.5 27 M34 19 L31.5 27" stroke="#40a030" stroke-width="2"/><path d="M10 20 L12 25 M20 22 L21 28" stroke="#40a030" stroke-width="2"/></g></g>
<use href="#bush" x="77" y="324" width="58.5" height="42" filter="url(#leafy)"/>
<g transform="translate(74.5,345.5)"><rect x="0.75" y="0.75" width="47.7" height="46.7" fill="url(#cg)" stroke="#bf5f68" stroke-width="1.6"/><g transform="scale(0.984,0.964)"><text font-family="Liberation Sans" font-weight="bold" font-size="5.4" fill="url(#tg)" stroke="url(#tg)" stroke-width="0.25"><textPath href="#tp" startOffset="50%" text-anchor="middle" textLength="32" lengthAdjust="spacingAndGlyphs">Акация</textPath></text><path d="M8 40 Q6 28 14 22 Q20 14 28 18 Q38 14 42 24 Q46 32 42 42 Z" fill="#5a9a3a"/><ellipse cx="24" cy="28" rx="10" ry="7" fill="#8cc060"/><ellipse cx="25" cy="42" rx="7" ry="3" fill="#8a5a6a"/></g></g>
<use href="#tree2" x="446.3" y="117" width="51.099999999999966" height="65.4" filter="url(#leafy)"/>
<g transform="translate(411.4,158.2)"><rect x="0.75" y="0.75" width="47.5" height="47.1" fill="url(#cg)" stroke="#bf5f68" stroke-width="1.6"/><g transform="scale(0.980,0.972)"><text font-family="Liberation Sans" font-weight="bold" font-size="5.4" fill="url(#tg)" stroke="url(#tg)" stroke-width="0.25"><textPath href="#tp" startOffset="50%" text-anchor="middle" textLength="32" lengthAdjust="spacingAndGlyphs">Аптечная клумба</textPath></text><ellipse cx="25" cy="37" rx="18" ry="8" fill="#3f9a3a"/><circle cx="20" cy="24" r="3" fill="#e8d040"/><circle cx="29" cy="30" r="4" fill="#b070b0"/><circle cx="37" cy="26" r="3.5" fill="#f0b030"/><circle cx="13" cy="29" r="2.5" fill="#5aa0d0"/><rect x="19" y="15" width="5" height="12" fill="#e8d060"/><circle cx="32" cy="20" r="2.5" fill="#f0d070"/><ellipse cx="14" cy="40" rx="5" ry="3" fill="#2a8a3a"/></g></g>
<g transform="translate(477.0,138.4)"><rect x="0.75" y="0.75" width="47.9" height="47.1" fill="url(#cg)" stroke="#bf5f68" stroke-width="1.6"/><g transform="scale(0.988,0.972)"><text font-family="Liberation Sans" font-weight="bold" font-size="5.4" fill="url(#tg)" stroke="url(#tg)" stroke-width="0.25"><textPath href="#tp" startOffset="50%" text-anchor="middle" textLength="32" lengthAdjust="spacingAndGlyphs">Осиновая аллея</textPath></text><path d="M25 45 C8 38 3 26 7 17 C11 9 22 10 25 18 C28 10 39 9 43 17 C47 26 42 38 25 45 Z" fill="#f2a21a"/><path d="M16 22 L20 40 M34 22 L30 40 M18 30 L12 26 M32 30 L38 26" stroke="#8a4a20" stroke-width="1.5"/><circle cx="15" cy="22" r="4" fill="#f8c040"/><circle cx="35" cy="24" r="4" fill="#e88a10"/><ellipse cx="25" cy="42" rx="5" ry="2" fill="#f0f0f0"/></g></g>
<use href="#pot" x="427" y="195" width="39" height="27"/>
<g transform="translate(439.3,213.3)"><rect x="0.75" y="0.75" width="47.5" height="46.9" fill="url(#cg)" stroke="#bf5f68" stroke-width="1.6"/><g transform="scale(0.980,0.968)"><text font-family="Liberation Sans" font-weight="bold" font-size="5.4" fill="url(#tg)" stroke="url(#tg)" stroke-width="0.25"><textPath href="#tp" startOffset="50%" text-anchor="middle" textLength="14" lengthAdjust="spacingAndGlyphs">Тополь</textPath></text><rect x="22.5" y="30" width="5" height="10" fill="#9a5a3a"/><ellipse cx="25" cy="25" rx="12" ry="11" fill="#5cac40"/><ellipse cx="22" cy="21" rx="6" ry="5" fill="#88cc5c"/><ellipse cx="25" cy="41" rx="10" ry="2" fill="#7cc050"/></g></g>
<use href="#pot" x="383.5" y="335" width="38.0" height="31.5"/>
<circle cx="77.8" cy="58.7" r="6.550000000000001" fill="#f5e53c" stroke="#3a3424" stroke-width="1.7"/><text x="77.8" y="62.0" font-family="Liberation Sans" font-weight="bold" font-size="9.2" fill="#2a2810" text-anchor="middle">5</text>
<circle cx="220" cy="108.5" r="6.550000000000001" fill="#f5e53c" stroke="#3a3424" stroke-width="1.7"/><text x="220" y="111.8" font-family="Liberation Sans" font-weight="bold" font-size="9.2" fill="#2a2810" text-anchor="middle">6</text>
<circle cx="103" cy="147" r="6.550000000000001" fill="#f5e53c" stroke="#3a3424" stroke-width="1.7"/><text x="103" y="150.3" font-family="Liberation Sans" font-weight="bold" font-size="9.2" fill="#2a2810" text-anchor="middle">3</text>
<circle cx="176.6" cy="207.6" r="6.550000000000001" fill="#f5e53c" stroke="#3a3424" stroke-width="1.7"/><text x="176.6" y="210.9" font-family="Liberation Sans" font-weight="bold" font-size="9.2" fill="#2a2810" text-anchor="middle">4</text>
<circle cx="170.8" cy="335.5" r="6.550000000000001" fill="#f5e53c" stroke="#3a3424" stroke-width="1.7"/><text x="170.8" y="338.8" font-family="Liberation Sans" font-weight="bold" font-size="9.2" fill="#2a2810" text-anchor="middle">2</text>
<circle cx="75" cy="393.5" r="6.550000000000001" fill="#f5e53c" stroke="#3a3424" stroke-width="1.7"/><text x="75" y="396.8" font-family="Liberation Sans" font-weight="bold" font-size="9.2" fill="#2a2810" text-anchor="middle" textLength="10.7" lengthAdjust="spacingAndGlyphs">21</text>
<circle cx="195.5" cy="407.9" r="6.550000000000001" fill="#f5e53c" stroke="#3a3424" stroke-width="1.7"/><text x="195.5" y="411.2" font-family="Liberation Sans" font-weight="bold" font-size="9.2" fill="#2a2810" text-anchor="middle" textLength="10.7" lengthAdjust="spacingAndGlyphs">20</text>
<circle cx="162.2" cy="547.3" r="6.550000000000001" fill="#f5e53c" stroke="#3a3424" stroke-width="1.7"/><text x="162.2" y="550.5999999999999" font-family="Liberation Sans" font-weight="bold" font-size="9.2" fill="#2a2810" text-anchor="middle" textLength="10.7" lengthAdjust="spacingAndGlyphs">19</text>
<circle cx="371.5" cy="107" r="6.550000000000001" fill="#f5e53c" stroke="#3a3424" stroke-width="1.7"/><text x="371.5" y="110.3" font-family="Liberation Sans" font-weight="bold" font-size="9.2" fill="#2a2810" text-anchor="middle">7</text>
<circle cx="472.8" cy="81.9" r="6.550000000000001" fill="#f5e53c" stroke="#3a3424" stroke-width="1.7"/><text x="472.8" y="85.2" font-family="Liberation Sans" font-weight="bold" font-size="9.2" fill="#2a2810" text-anchor="middle">8</text>
<circle cx="410.4" cy="158.2" r="6.550000000000001" fill="#f5e53c" stroke="#3a3424" stroke-width="1.7"/><text x="410.4" y="161.5" font-family="Liberation Sans" font-weight="bold" font-size="9.2" fill="#2a2810" text-anchor="middle" textLength="10.7" lengthAdjust="spacingAndGlyphs">10</text>
<circle cx="527" cy="185.2" r="6.550000000000001" fill="#f5e53c" stroke="#3a3424" stroke-width="1.7"/><text x="527" y="188.5" font-family="Liberation Sans" font-weight="bold" font-size="9.2" fill="#2a2810" text-anchor="middle">9</text>
<circle cx="488.2" cy="213.8" r="6.550000000000001" fill="#f5e53c" stroke="#3a3424" stroke-width="1.7"/><text x="488.2" y="217.10000000000002" font-family="Liberation Sans" font-weight="bold" font-size="9.2" fill="#2a2810" text-anchor="middle" textLength="10.7" lengthAdjust="spacingAndGlyphs">11</text>
<circle cx="382.8" cy="239.8" r="6.550000000000001" fill="#f5e53c" stroke="#3a3424" stroke-width="1.7"/><text x="382.8" y="243.10000000000002" font-family="Liberation Sans" font-weight="bold" font-size="9.2" fill="#2a2810" text-anchor="middle" textLength="10.7" lengthAdjust="spacingAndGlyphs">12</text>
<circle cx="438.3" cy="340" r="6.550000000000001" fill="#f5e53c" stroke="#3a3424" stroke-width="1.7"/><text x="438.3" y="343.3" font-family="Liberation Sans" font-weight="bold" font-size="9.2" fill="#2a2810" text-anchor="middle">1</text>
<circle cx="682.1" cy="216.9" r="6.550000000000001" fill="#f5e53c" stroke="#3a3424" stroke-width="1.7"/><text x="682.1" y="220.20000000000002" font-family="Liberation Sans" font-weight="bold" font-size="9.2" fill="#2a2810" text-anchor="middle" textLength="10.7" lengthAdjust="spacingAndGlyphs">14</text>
<circle cx="635.4" cy="354.7" r="6.550000000000001" fill="#f5e53c" stroke="#3a3424" stroke-width="1.7"/><text x="635.4" y="358.0" font-family="Liberation Sans" font-weight="bold" font-size="9.2" fill="#2a2810" text-anchor="middle" textLength="10.7" lengthAdjust="spacingAndGlyphs">14</text>
<circle cx="609.5" cy="474.2" r="6.550000000000001" fill="#f5e53c" stroke="#3a3424" stroke-width="1.7"/><text x="609.5" y="477.5" font-family="Liberation Sans" font-weight="bold" font-size="9.2" fill="#2a2810" text-anchor="middle" textLength="10.7" lengthAdjust="spacingAndGlyphs">15</text>
<circle cx="918" cy="76.2" r="6.550000000000001" fill="#f5e53c" stroke="#3a3424" stroke-width="1.7"/><text x="918" y="79.5" font-family="Liberation Sans" font-weight="bold" font-size="9.2" fill="#2a2810" text-anchor="middle" textLength="10.7" lengthAdjust="spacingAndGlyphs">13</text>
<circle cx="902.4" cy="418.6" r="6.550000000000001" fill="#f5e53c" stroke="#3a3424" stroke-width="1.7"/><text x="902.4" y="421.90000000000003" font-family="Liberation Sans" font-weight="bold" font-size="9.2" fill="#2a2810" text-anchor="middle" textLength="10.7" lengthAdjust="spacingAndGlyphs">16</text>
<circle cx="932.3" cy="483.5" r="6.550000000000001" fill="#f5e53c" stroke="#3a3424" stroke-width="1.7"/><text x="932.3" y="486.8" font-family="Liberation Sans" font-weight="bold" font-size="9.2" fill="#2a2810" text-anchor="middle" textLength="10.7" lengthAdjust="spacingAndGlyphs">17</text>
<circle cx="913" cy="564.3" r="6.550000000000001" fill="#f5e53c" stroke="#3a3424" stroke-width="1.7"/><text x="913" y="567.5999999999999" font-family="Liberation Sans" font-weight="bold" font-size="9.2" fill="#2a2810" text-anchor="middle" textLength="10.7" lengthAdjust="spacingAndGlyphs">18</text>
<defs><linearGradient id="wg1" x1="0" x2="1"><stop offset="0" stop-color="#e8e8e8"/><stop offset="1" stop-color="#cfcfcf"/></linearGradient><linearGradient id="wg2" x1="0" x2="1"><stop offset="0" stop-color="#cfcfcf"/><stop offset="1" stop-color="#e6e6e6"/></linearGradient></defs>
<g opacity="0.9"><path d="M707.5 558.5 L707.5 500 Q707.5 486 721.5 486 L741 486 Q753.4 486 753.4 498 L753.4 512 L728.4 512 L728.4 558.5 Z" fill="#c9e5f3"/><path d="M728.4 512 L728.4 497 Q728.4 488 737 488 L744 488 Q753.4 488 753.4 497 L753.4 512 Z" fill="url(#wg1)"/><path d="M779.3 486 L779.3 545 Q779.3 558.5 765 558.5 L746 558.5 Q732.6 558.5 732.6 546 L732.6 532 L758 532 L758 486 Z" fill="#c9e5f3"/><path d="M733 532 L758 532 L758 548 Q758 557 749 557 L742 557 Q733 557 733 548 Z" fill="url(#wg2)"/></g>
<g opacity="0.45"><text x="794" y="524.5" font-family="Liberation Sans" font-weight="bold" font-size="33" fill="#7a7a7a" stroke="#7a7a7a" stroke-width="1.8" textLength="197" lengthAdjust="spacingAndGlyphs">НОВАЦИЯ</text></g>
<text x="793.2" y="537" font-family="Liberation Sans" font-size="11.5" fill="#767676" fill-opacity="0.5" textLength="151" lengthAdjust="spacingAndGlyphs">комплексное оснащение</text>
<text x="793.2" y="547" font-family="Liberation Sans" font-size="11.5" fill="#767676" fill-opacity="0.5" textLength="130" lengthAdjust="spacingAndGlyphs">школ и детских садов</text>
</svg>
</body></html>
